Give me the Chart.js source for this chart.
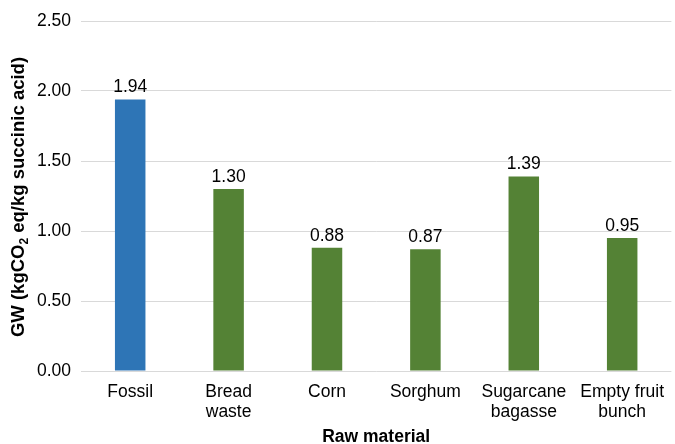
<!DOCTYPE html>
<html>
<head>
<meta charset="utf-8">
<script src="https://cdn.jsdelivr.net/npm/chart.js@4"></script>
<style>
  html, body { margin: 0; padding: 0; background: #fff; }
  #wrap { width: 675px; height: 444px; }
</style>
</head>
<body>
<div id="wrap"><canvas id="gwChart" width="675" height="444"></canvas></div>
<script>
const materials = ['Fossil', ['Bread', 'waste'], 'Corn', 'Sorghum', ['Sugarcane', 'bagasse'], ['Empty fruit', 'bunch']];
const gwValues = [1.94, 1.30, 0.88, 0.87, 1.39, 0.95];
const barColors = ['#2E75B6', '#548235', '#548235', '#548235', '#548235', '#548235'];
const yTicks = [0, 0.5, 1.0, 1.5, 2.0, 2.5];

const FONT = "'Liberation Sans', Arial, sans-serif";

// value labels above each bar
const valueLabels = {
    id: 'valueLabels',
    afterDatasetsDraw(chart) {
        const ctx = chart.ctx;
        const meta = chart.getDatasetMeta(0);
        ctx.save();
        ctx.font = '17.5px ' + FONT;
        ctx.fillStyle = '#000';
        ctx.textAlign = 'center';
        ctx.textBaseline = 'bottom';
        meta.data.forEach((bar, i) => {
            ctx.fillText(gwValues[i].toFixed(2), bar.x, bar.y - 3);
        });
        ctx.restore();
    }
};

// axis titles (y title has a subscript 2)
const axisTitles = {
    id: 'axisTitles',
    afterDraw(chart) {
        const ctx = chart.ctx;
        const area = chart.chartArea;
        ctx.save();
        ctx.fillStyle = '#000';
        ctx.textBaseline = 'alphabetic';

        // x title
        ctx.font = 'bold 17.5px ' + FONT;
        ctx.textAlign = 'center';
        ctx.fillText('Raw material', (area.left + area.right) / 2, 442);

        // y title, rotated
        const parts = [
            { t: 'GW (kgCO', f: 'bold 18.5px ' + FONT, dy: 0 },
            { t: '2', f: 'bold 12px ' + FONT, dy: 4 },
            { t: ' eq/kg succinic acid)', f: 'bold 18.5px ' + FONT, dy: 0 }
        ];
        let total = 0;
        parts.forEach(p => { ctx.font = p.f; p.w = ctx.measureText(p.t).width; total += p.w; });
        ctx.translate(24, 197);
        ctx.rotate(-Math.PI / 2);
        ctx.textAlign = 'left';
        let x = -total / 2;
        parts.forEach(p => {
            ctx.font = p.f;
            ctx.fillText(p.t, x, p.dy);
            x += p.w;
        });
        ctx.restore();
    }
};

const ctx = document.getElementById('gwChart').getContext('2d');
new Chart(ctx, {
    type: 'bar',
    data: {
        labels: materials,
        datasets: [{
            data: gwValues,
            backgroundColor: barColors,
            borderWidth: 0,
            barPercentage: 0.31,
            categoryPercentage: 1.0
        }]
    },
    options: {
        responsive: false,
        animation: false,
        layout: { padding: { top: 21, right: 0, bottom: 0, left: 0 } },
        plugins: {
            legend: { display: false },
            tooltip: { enabled: false }
        },
        scales: {
            x: {
                grid: { display: false, drawTicks: false },
                border: { display: false },
                ticks: {
                    color: '#000',
                    font: { family: FONT, size: 17.5, lineHeight: 1.15 },
                    padding: 11,
                    maxRotation: 0,
                    autoSkip: false
                },
                afterFit(scale) { scale.height = 73; }
            },
            y: {
                min: 0,
                max: 2.5,
                afterBuildTicks(scale) { scale.ticks = yTicks.map(v => ({ value: v })); },
                grid: { color: '#D9D9D9', lineWidth: 1, drawTicks: false },
                border: { display: false },
                ticks: {
                    color: '#000',
                    font: { family: FONT, size: 17.5 },
                    padding: 10,
                    callback: v => Number(v).toFixed(2)
                },
                afterFit(scale) { scale.width = 81; }
            }
        }
    },
    plugins: [valueLabels, axisTitles]
});
</script>
</body>
</html>
